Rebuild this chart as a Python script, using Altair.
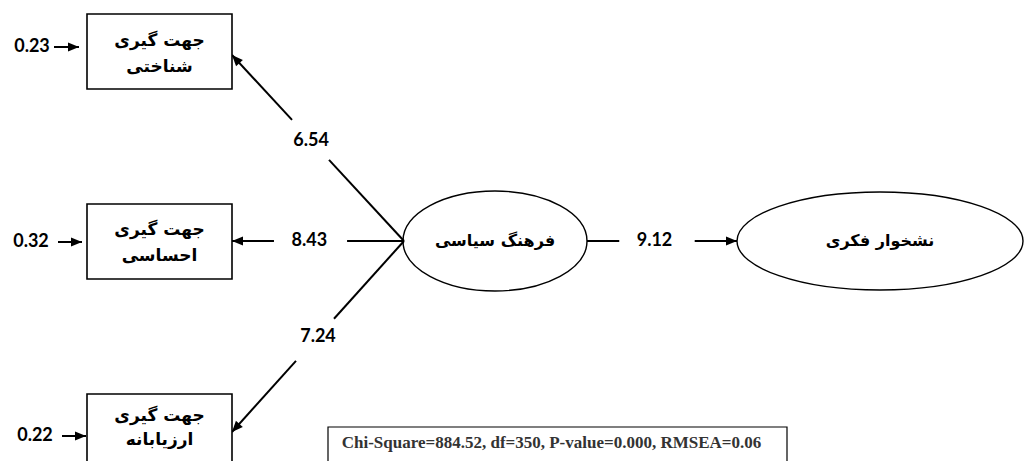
import altair as alt
import pandas as pd
import numpy as np

# ---------------- data ----------------
# observed variables (boxes)
box_line1 = ["جهت گیری", "جهت گیری", "جهت گیری"]
box_line2 = ["شناختی", "احساسی", "ارزیابانه"]
box_left = [87, 87, 87]
box_right = [232, 232, 232]
box_top = [14, 204, 394]
box_bottom = [89, 279, 500]
box_text_y1 = [41, 230, 416]
box_text_y2 = [67, 256, 440]

# error terms
err_values = ["0.23", "0.32", "0.22"]
err_label_x = [32, 31, 35]
err_y = [47, 242, 436]
err_arrow_from = [54, 58, 62]
err_arrow_to = [79, 82, 86]

# latent variables (ellipses)
lat_names = ["فرهنگ سیاسی", "نشخوار فکری"]
lat_cx = [495, 880]
lat_cy = [241, 241]
lat_rx = [92, 143]
lat_ry = [50, 49]

# loadings: from latent 1 to each box, value and label gap (fractions along edge)
load_values = ["6.54", "8.43", "7.24"]
load_tip_y = [55, 241, 432]
load_gap_start = [0.436, 0.331, 0.407]
load_gap_end = [0.651, 0.756, 0.628]
load_label_pos = [0.54, 0.55, 0.50]

# structural path latent 1 -> latent 2
path_value = "9.12"
path_gap = (0.215, 0.718)
path_label_pos = 0.45

fit_text = "Chi-Square=884.52, df=350, P-value=0.000, RMSEA=0.06"
fit_box = (328, 427, 787, 500)
fit_text_y = 443

# ---------------- geometry tables ----------------
X0, X1, Y0, Y1 = 8, 1024, 8, 461
xs = alt.Scale(domain=[X0, X1], nice=False, zero=False)
ys = alt.Scale(domain=[Y0, Y1], nice=False, zero=False, reverse=True)


def X(f):
    return alt.X(f, type="quantitative", scale=xs, axis=None)


def Y(f):
    return alt.Y(f, type="quantitative", scale=ys, axis=None)


junction = (lat_cx[0] - lat_rx[0] + 1, lat_cy[0])
segs = []      # line segments
heads = []     # arrowheads (tip x, tip y, angle)
labels = []    # numeric labels

for i in range(3):
    sx, sy = junction
    tx, ty = box_right[i], load_tip_y[i]
    dx, dy = tx - sx, ty - sy
    a, b = load_gap_start[i], load_gap_end[i]
    segs.append(dict(x=sx, y=sy, x2=sx + a * dx, y2=sy + a * dy))
    segs.append(dict(x=sx + b * dx, y=sy + b * dy, x2=tx, y2=ty))
    heads.append(dict(x=tx, y=ty, angle=float(np.degrees(np.arctan2(dx, -dy)) % 360)))
    m = load_label_pos[i]
    labels.append(dict(x=sx + m * dx, y=sy + m * dy, t=load_values[i]))

# structural path
sx, sy = lat_cx[0] + lat_rx[0], lat_cy[0]
tx, ty = lat_cx[1] - lat_rx[1], lat_cy[0]
dx = tx - sx
segs.append(dict(x=sx, y=sy, x2=sx + path_gap[0] * dx, y2=sy))
segs.append(dict(x=sx + path_gap[1] * dx, y=sy, x2=tx, y2=ty))
heads.append(dict(x=tx, y=ty, angle=90.0))
labels.append(dict(x=sx + path_label_pos * dx, y=sy, t=path_value))

# error arrows
for i in range(3):
    segs.append(dict(x=err_arrow_from[i], y=err_y[i], x2=err_arrow_to[i], y2=err_y[i]))
    heads.append(dict(x=err_arrow_to[i], y=err_y[i], angle=90.0))
    labels.append(dict(x=err_label_x[i], y=err_y[i], t=err_values[i]))

seg_df = pd.DataFrame(segs)
head_df = pd.DataFrame(heads)
lab_df = pd.DataFrame(labels)

box_df = pd.DataFrame(dict(l=box_left, r=box_right, t=box_top, b=box_bottom))
boxtxt_df = pd.DataFrame(dict(
    x=[(l + r) / 2 for l, r in zip(box_left, box_right)] * 2,
    y=box_text_y1 + box_text_y2,
    t=box_line1 + box_line2,
))
lat_df = pd.DataFrame(dict(x=lat_cx, y=lat_cy, t=lat_names,
                           size=[(2 * r) ** 2 for r in lat_rx],
                           k=["a", "b"]))
ell_paths = [
    f"M -1 0 A 1 {ry / rx:.4f} 0 1 1 1 0 A 1 {ry / rx:.4f} 0 1 1 -1 0 Z"
    for rx, ry in zip(lat_rx, lat_ry)
]
fit_df = pd.DataFrame(dict(l=[fit_box[0]], t=[fit_box[1]], r=[fit_box[2]], b=[fit_box[3]],
                           cx=[(fit_box[0] + fit_box[2]) / 2 - 6], cy=[fit_text_y],
                           txt=[fit_text]))

ARROW = "M 0 0 L 0.42 1 L -0.42 1 Z"

# ---------------- layers ----------------
lines = alt.Chart(seg_df).mark_rule(color="black", strokeWidth=2).encode(
    x=X("x"), y=Y("y"), x2=alt.X2("x2"), y2=alt.Y2("y2"))

arrowheads = alt.Chart(head_df).mark_point(
    shape=ARROW, filled=True, color="black", size=484, opacity=1, strokeWidth=0
).encode(x=X("x"), y=Y("y"), angle=alt.Angle("angle:Q", scale=None))

boxes = alt.Chart(box_df).mark_rect(fill="white", stroke="black", strokeWidth=1.6).encode(
    x=X("l"), x2=alt.X2("r"), y=Y("t"), y2=alt.Y2("b"))

box_text = alt.Chart(boxtxt_df).mark_text(
    font="DejaVu Sans", fontWeight="bold", fontSize=17, color="black"
).encode(x=X("x"), y=Y("y"), text="t:N")

ellipses = alt.Chart(lat_df).mark_point(
    filled=False, color="black", strokeWidth=1.4, opacity=1
).encode(
    x=X("x"), y=Y("y"),
    size=alt.Size("size:Q", scale=None),
    shape=alt.Shape("k:N", scale=alt.Scale(domain=["a", "b"], range=ell_paths), legend=None),
)

lat_text = alt.Chart(lat_df).mark_text(
    font="DejaVu Sans", fontWeight="bold", fontSize=16, color="black"
).encode(x=X("x"), y=Y("y"), text="t:N")

num_text = alt.Chart(lab_df).mark_text(
    font="Lato", fontWeight="bold", fontSize=18, color="black"
).encode(x=X("x"), y=Y("y"), text="t:N")

fit_rect = alt.Chart(fit_df).mark_rect(fill="white", stroke="black", strokeWidth=1.2).encode(
    x=X("l"), x2=alt.X2("r"), y=Y("t"), y2=alt.Y2("b"))

fit_txt = alt.Chart(fit_df).mark_text(
    font="Liberation Serif", fontWeight="bold", fontSize=17, color="#333333"
).encode(x=X("cx"), y=Y("cy"), text="txt:N")

chart = alt.layer(
    lines, arrowheads, boxes, box_text, ellipses, lat_text, num_text, fit_rect, fit_txt
).properties(
    width=X1 - X0, height=Y1 - Y0, padding=0, autosize="none", background="white"
).configure_view(strokeWidth=0)

chart.save("out.html", embed_options={"renderer": "svg", "actions": False})
